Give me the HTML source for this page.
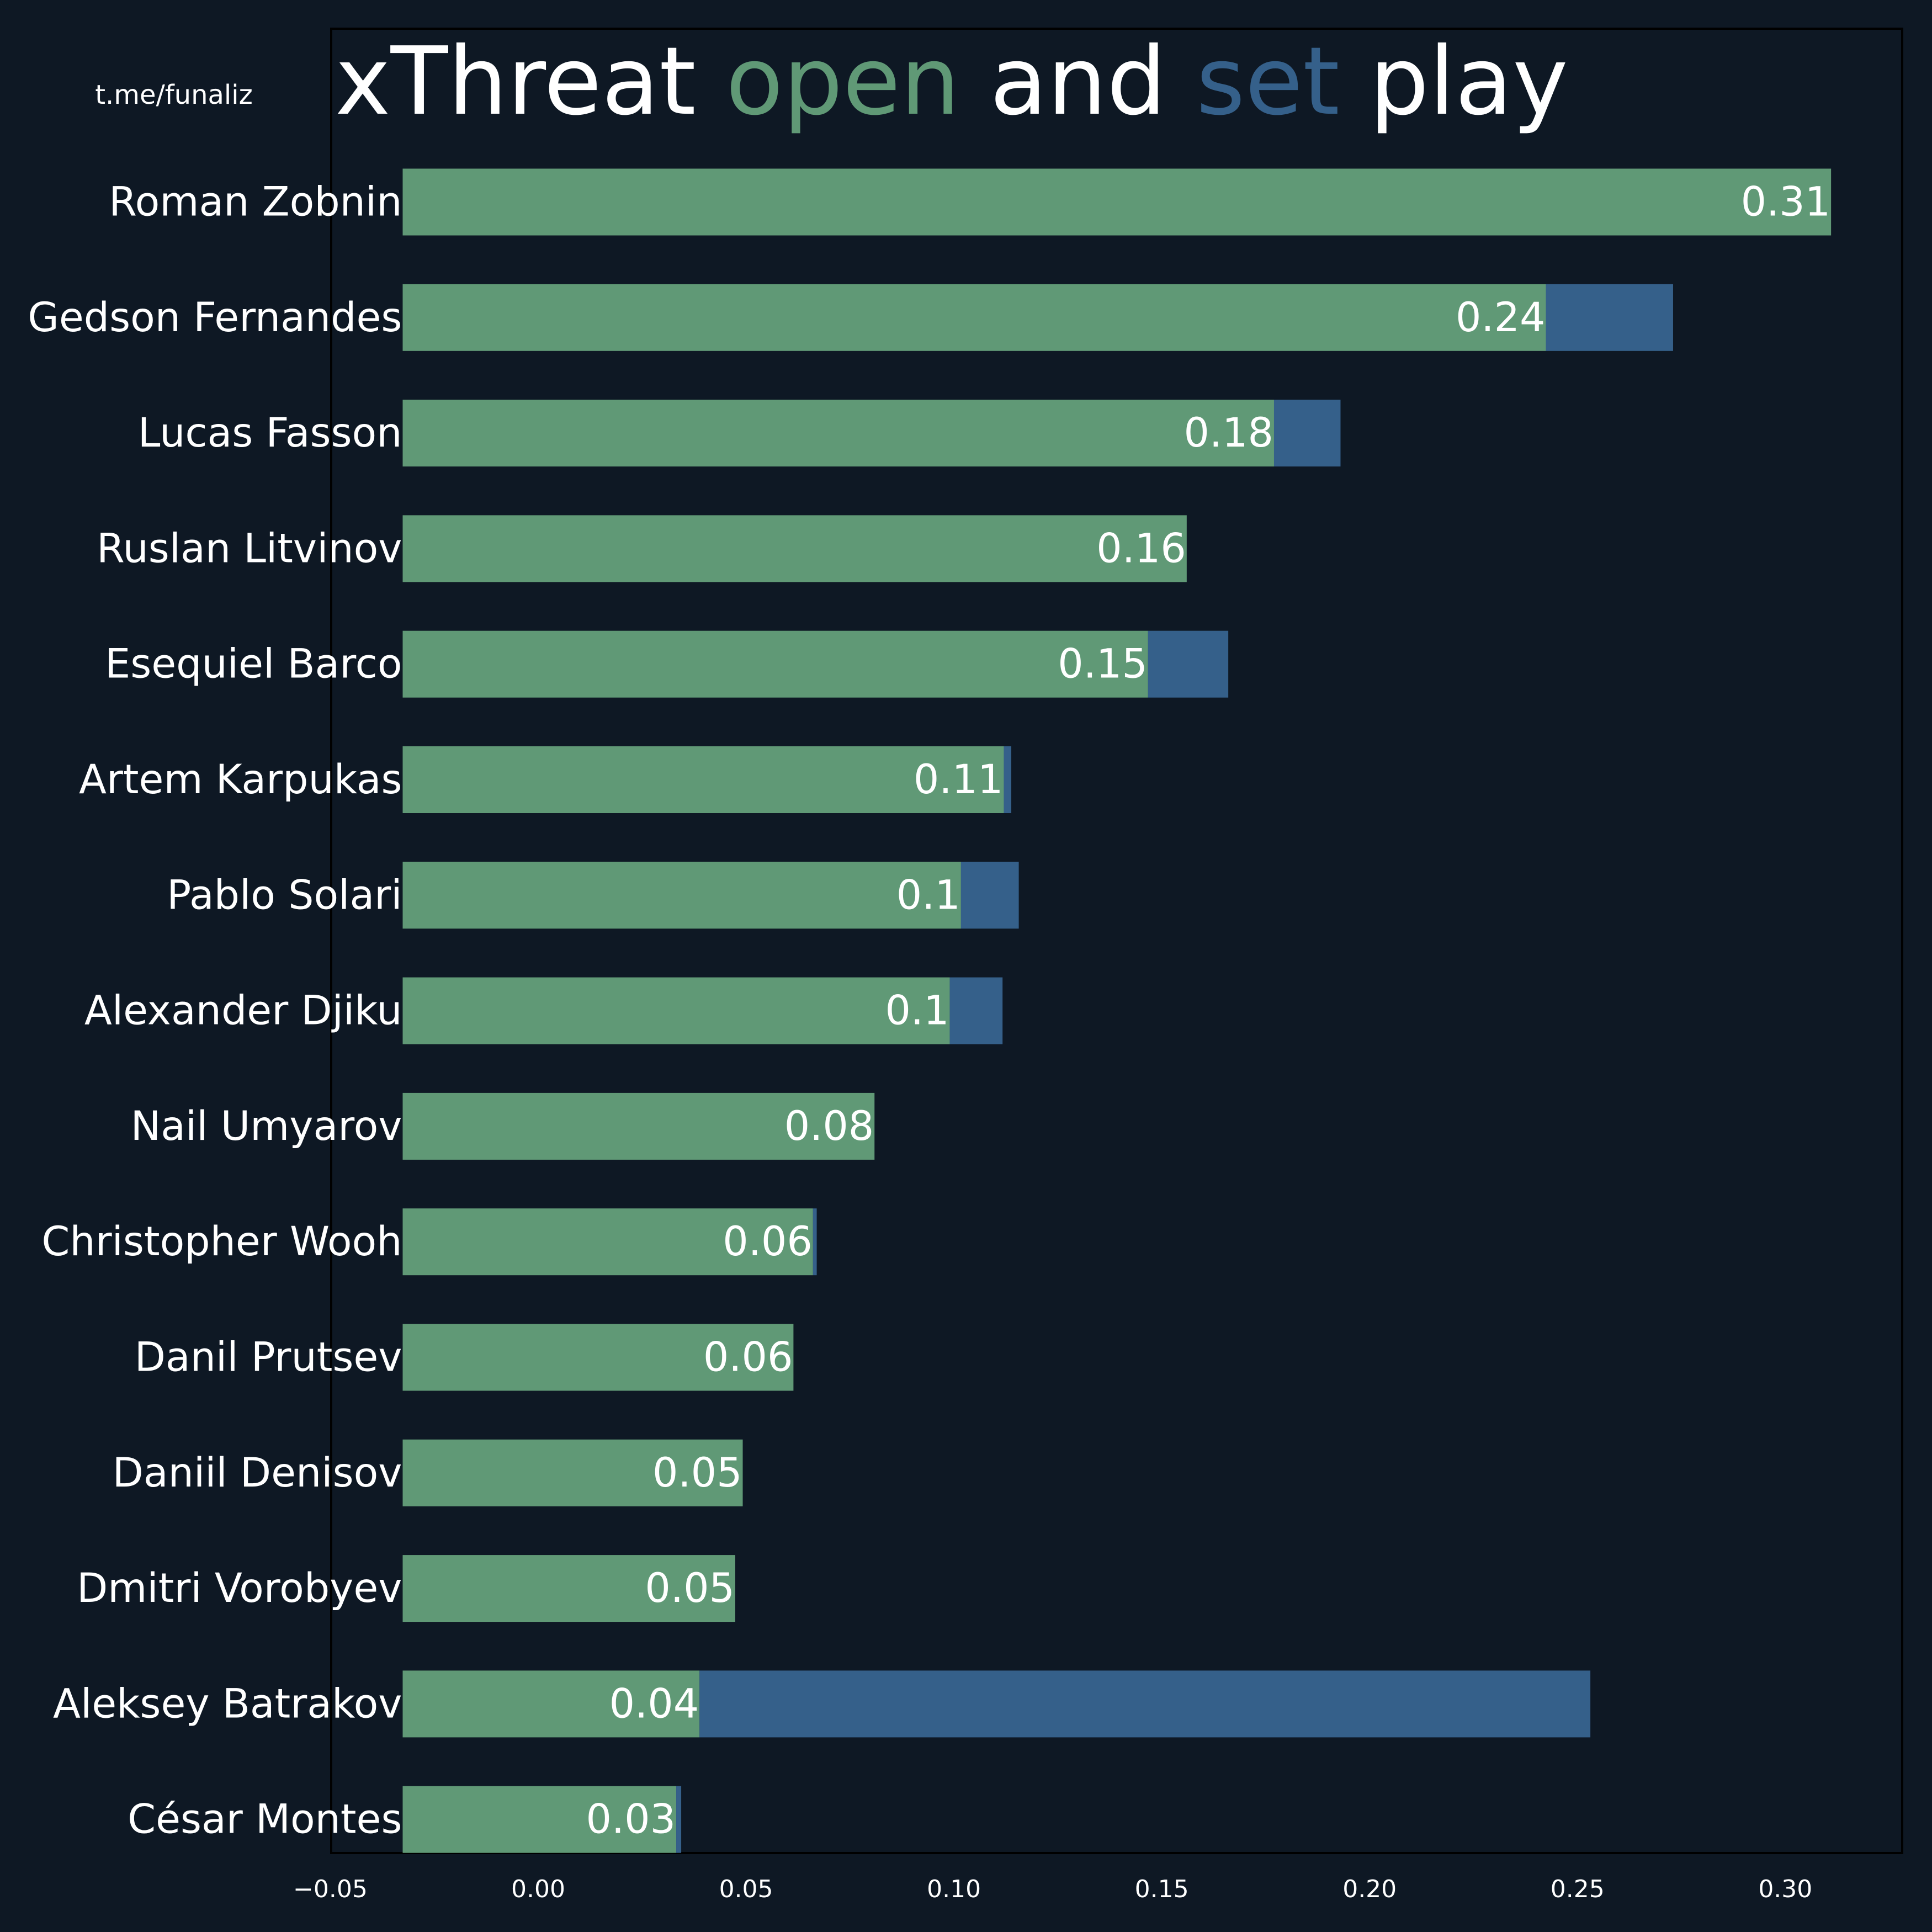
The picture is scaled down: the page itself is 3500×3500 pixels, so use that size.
<!DOCTYPE html>
<html><head><meta charset="utf-8"><style>
html,body{margin:0;padding:0;background:#0e1824;}
svg{display:block;font-family:"DejaVu Sans","Liberation Sans",sans-serif;}
</style></head><body>
<svg id="chart" width="3500" height="3500" viewBox="0 0 3500 3500" xmlns="http://www.w3.org/2000/svg">
<rect x="0" y="0" width="3500" height="3500" fill="#0e1824"/>
<rect x="600" y="52" width="2846" height="3305" fill="none" stroke="#000000" stroke-width="4"/>
<text x="315" y="188" fill="#ffffff" font-size="48" text-anchor="middle">t.me/funaliz</text>
<text x="607" y="206" fill="#ffffff" font-size="170">xThreat <tspan fill="#609976">open</tspan> and <tspan fill="#35608a">set</tspan> play</text>
<g id="bars"></g>
<g id="labels"></g>
<g id="xticks"></g>
</svg>
<script>
const players = ["Roman Zobnin","Gedson Fernandes","Lucas Fasson","Ruslan Litvinov","Esequiel Barco","Artem Karpukas","Pablo Solari","Alexander Djiku","Nail Umyarov","Christopher Wooh","Danil Prutsev","Daniil Denisov","Dmitri Vorobyev","Aleksey Batrakov","César Montes"];
const openPlay = [0.311,0.2424,0.177,0.156,0.1467,0.112,0.1017,0.099,0.0809,0.0661,0.0614,0.0492,0.0474,0.0388,0.0332];
const setPlay = [0,0.0306,0.016,0,0.0193,0.0018,0.0139,0.0127,0,0.0009,0,0,0,0.2143,0.0012];
const valueLabels = ["0.31","0.24","0.18","0.16","0.15","0.11","0.1","0.1","0.08","0.06","0.06","0.05","0.05","0.04","0.03"];
const xTicks = [-0.05,0,0.05,0.10,0.15,0.20,0.25,0.30];
const xTickLabels = ["\u22120.05","0.00","0.05","0.10","0.15","0.20","0.25","0.30"];
const barBase = -0.0326;

const NS = "http://www.w3.org/2000/svg";
const X0 = 975, XS = 7531;
function xPos(v){ return X0 + v*XS; }
const Y0 = 366, YS = 209.3, BH = 121;
function yPos(i){ return Y0 + i*YS; }

const gb = document.getElementById('bars');
const gl = document.getElementById('labels');
const gx = document.getElementById('xticks');
function mk(tag, attrs){ const e=document.createElementNS(NS,tag); for(const k in attrs) e.setAttribute(k,attrs[k]); return e; }

players.forEach((p,i)=>{
  const yc = yPos(i);
  const xa = xPos(barBase), xb = xPos(openPlay[i]), xc = xPos(openPlay[i]+setPlay[i]);
  const g = mk('rect',{x:xa,y:yc-BH/2,width:xb-xa,height:BH,fill:'#609976'});
  
  
  gb.appendChild(g);
  if (setPlay[i] > 0) {
    const b = mk('rect',{x:xb,y:yc-BH/2,width:xc-xb,height:BH,fill:'#35608a'});
    
    
    gb.appendChild(b);
  }
  const n = mk('text',{x:xa-1,y:yc,fill:'#ffffff','font-size':73,'text-anchor':'end','dominant-baseline':'central'});
  n.textContent = p;
  
  
  gl.appendChild(n);
  const v = mk('text',{x:xb-1,y:yc,fill:'#ffffff','font-size':73,'text-anchor':'end','dominant-baseline':'central'});
  v.textContent = valueLabels[i];
  
  
  gl.appendChild(v);
});

xTicks.forEach((t,i)=>{
  const tx = mk('text',{x:xPos(t),y:3437,fill:'#ffffff','font-size':44,'text-anchor':'middle'});
  tx.textContent = xTickLabels[i];
  
  
  gx.appendChild(tx);
});
</script>
</body></html>
